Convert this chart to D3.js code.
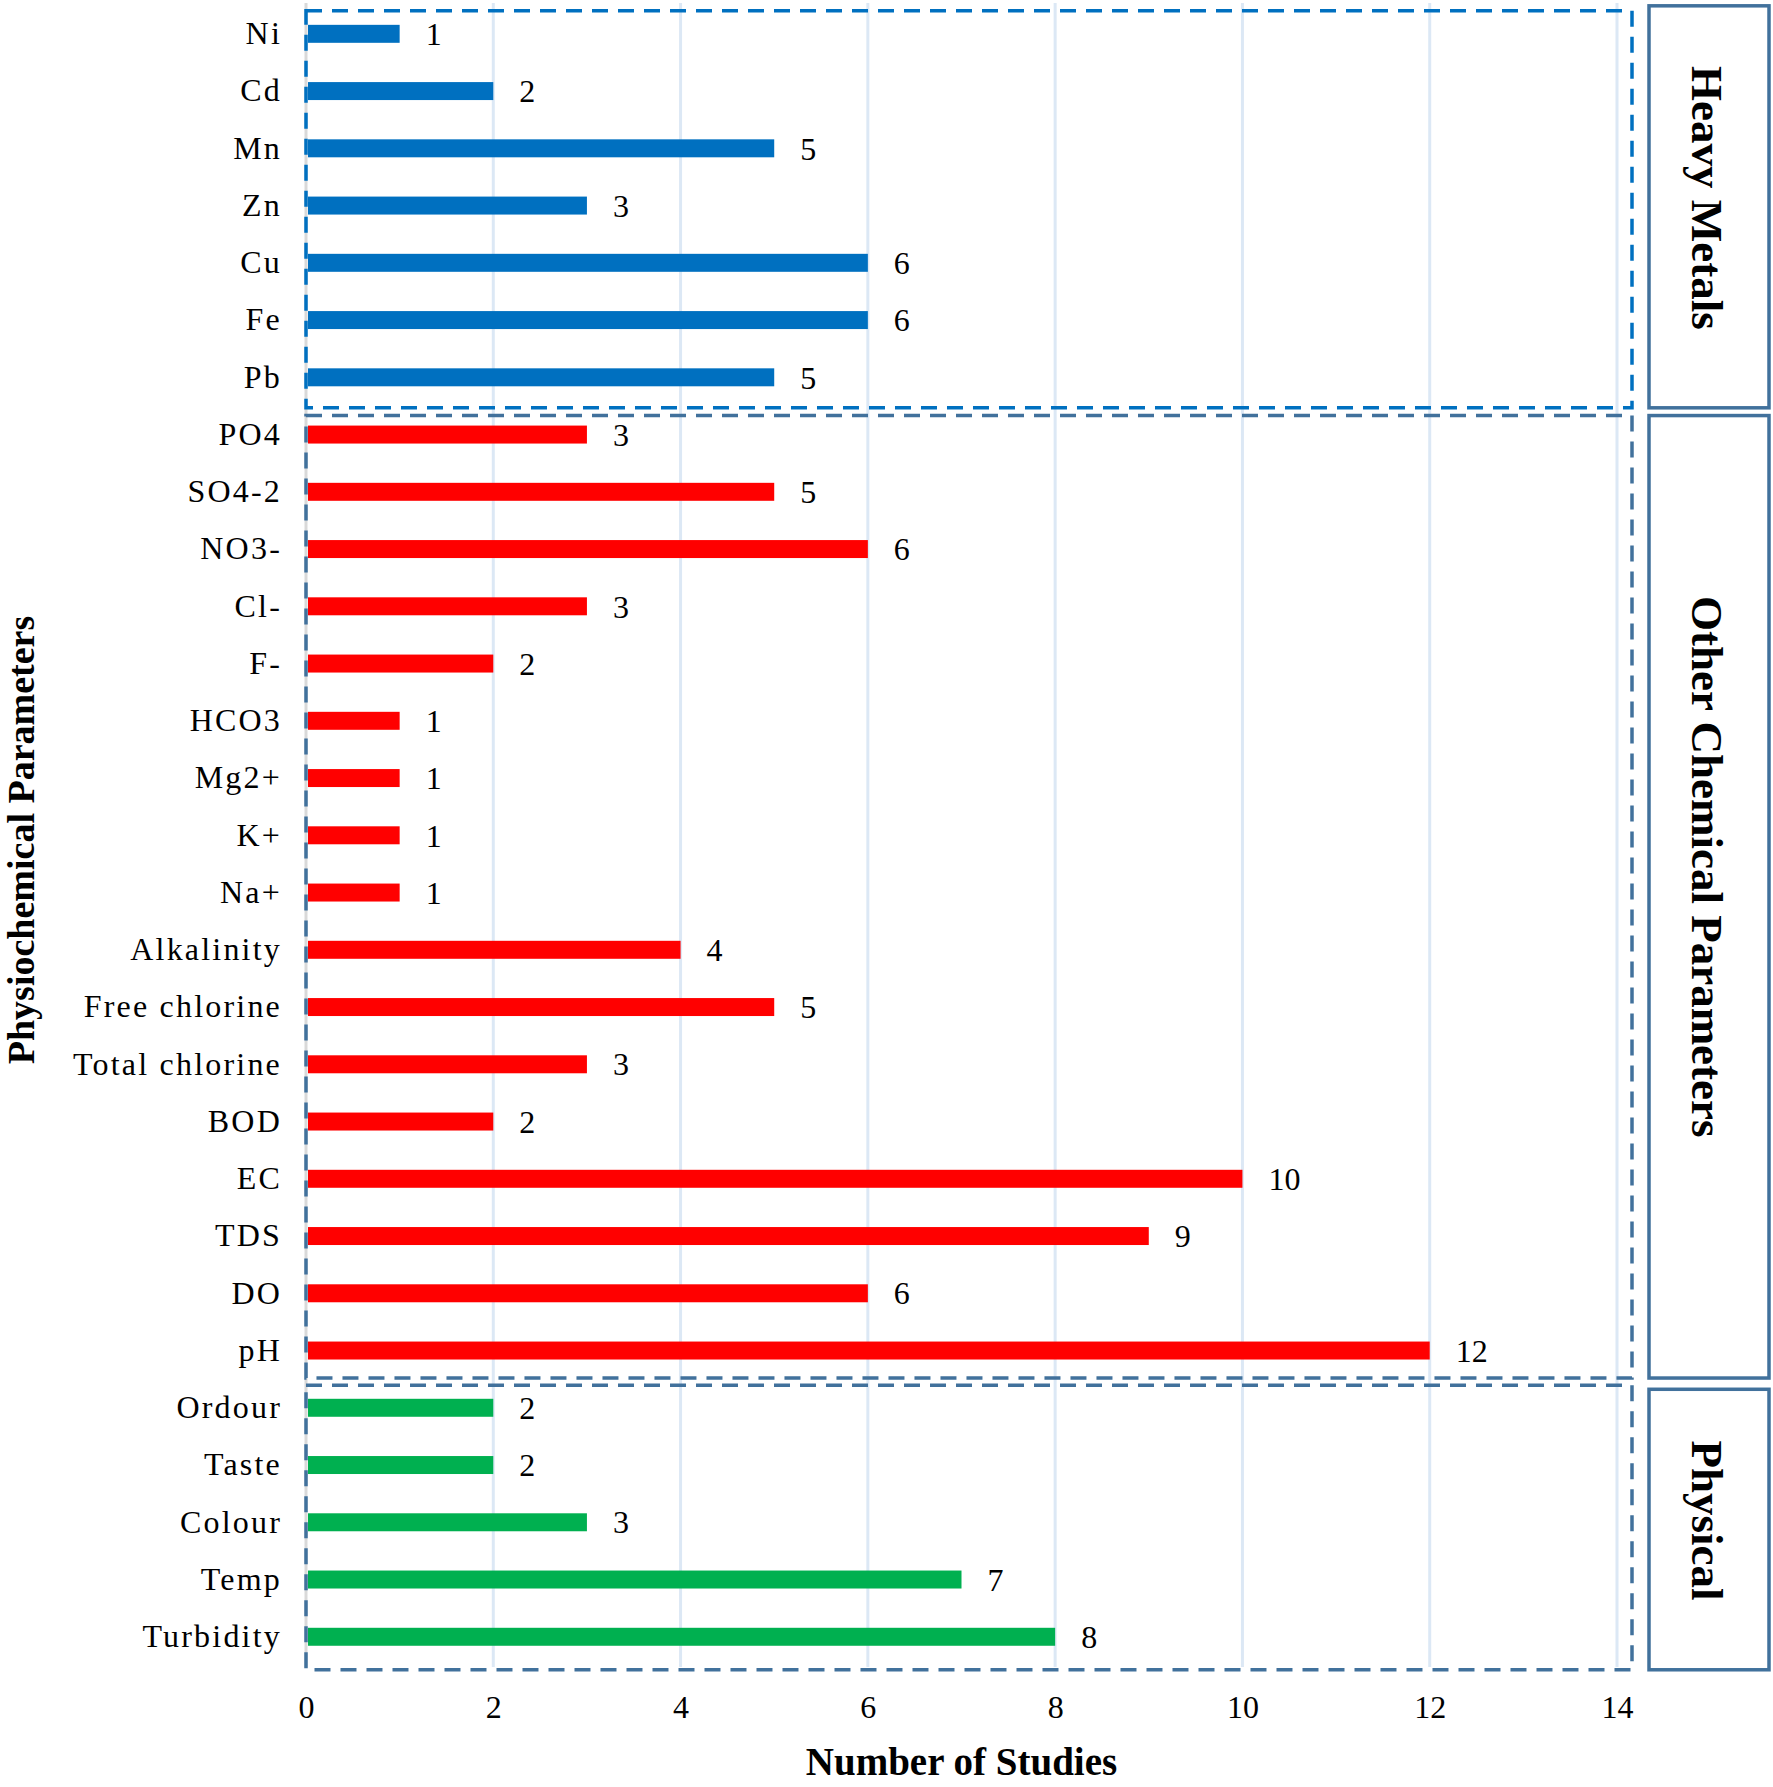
<!DOCTYPE html>
<html>
<head>
<meta charset="utf-8">
<script src="https://cdn.jsdelivr.net/npm/d3@7"></script>
<style>
  html, body { margin: 0; padding: 0; background: #fff; }
  svg { display: block; font-family: "Liberation Serif", "Times New Roman", serif; }
</style>
</head>
<body>
<svg id="chart" width="1773" height="1787"></svg>
<script>
// ---------------- data ----------------
const categories = ["Ni","Cd","Mn","Zn","Cu","Fe","Pb",
  "PO4","SO4-2","NO3-","Cl-","F-","HCO3","Mg2+","K+","Na+","Alkalinity","Free chlorine","Total chlorine","BOD","EC","TDS","DO","pH",
  "Ordour","Taste","Colour","Temp","Turbidity"];
const values = [1,2,5,3,6,6,5,
  3,5,6,3,2,1,1,1,1,4,5,3,2,10,9,6,12,
  2,2,3,7,8];
const groupNames = ["Heavy Metals","Other Chemical Parameters","Physical"];
const groupSizes = [7,17,5];
const groupBarColors = ["#0070C0","#FF0000","#00B050"];
const groupBoxColors = ["#0070C0","#41719C","#41719C"];
const xTicks = [0,2,4,6,8,10,12,14];
const xTitle = "Number of Studies";
const yTitle = "Physiochemical Parameters";

// ---------------- layout ----------------
const FONT = "Liberation Serif";
const svg = d3.select("#chart");
const plotTop = 3, plotBottom = 1667;
const x = d3.scaleLinear().domain([0,14]).range([306,1617]);
const y = d3.scaleBand().domain(categories).range([5.2,1665.4]).paddingInner(0.686).paddingOuter(0.343);
const cy = c => y(c) + y.bandwidth()/2;

// group index per category
const groupOf = [];
groupSizes.forEach((n,g) => { for (let i=0;i<n;i++) groupOf.push(g); });

// gridlines
svg.append("g").selectAll("line").data(xTicks.filter(t => t>0)).join("line")
  .attr("x1", d=>x(d)).attr("x2", d=>x(d))
  .attr("y1", plotTop).attr("y2", plotBottom)
  .attr("stroke", "#DCE8F5").attr("stroke-width", 3);

// axis line at 0
svg.append("line").attr("x1", x(0)).attr("x2", x(0)).attr("y1", plotTop).attr("y2", plotBottom)
  .attr("stroke", "#D9D9D9").attr("stroke-width", 3);

// bars
svg.append("g").selectAll("rect").data(categories).join("rect")
  .attr("x", x(0)+2)
  .attr("y", d => y(d))
  .attr("width", (d,i) => x(values[i]) - x(0) - 2)
  .attr("height", y.bandwidth())
  .attr("fill", (d,i) => groupBarColors[groupOf[i]]);

// value labels
svg.append("g").selectAll("text").data(categories).join("text")
  .attr("x", (d,i) => x(values[i]) + 26)
  .attr("y", d => cy(d))
  .attr("dy", "0.35em")
  .attr("font-family", FONT)
  .attr("font-size", 32)
  .attr("fill", "#000")
  .text((d,i) => values[i]);

// y axis labels
const yAxis = d3.axisLeft(y).tickSize(0).tickPadding(24);
const gy = svg.append("g").attr("transform", `translate(${x(0)},0)`).call(yAxis);
gy.select(".domain").remove();
gy.attr("font-family", FONT);
gy.selectAll("text").attr("font-size", 32).attr("font-family", FONT)
  .attr("fill", "#000").attr("letter-spacing", 2.2);

// x axis tick labels
const xAxis = d3.axisBottom(x).tickValues(xTicks).tickSize(0).tickPadding(0).tickFormat(d3.format("d"));
const gx = svg.append("g").attr("transform", "translate(0,1695)").call(xAxis);
gx.select(".domain").remove();
gx.attr("font-family", FONT);
gx.selectAll("text").attr("font-size", 32).attr("font-family", FONT).attr("fill", "#000");

// group boxes (dashed) and side label boxes
const dashTopOff = [23, 19, 22.5];
const dashBotOff = [30.5, 27.5, 33];
const sideTopOff = [28, 19, 18.5];
const sideBotOff = [30.5, 27.5, 33];
const labelShift = [9, 30, 9];
let start = 0;
groupNames.forEach((name, g) => {
  const first = categories[start], last = categories[start + groupSizes[g] - 1];
  const top = cy(first) - dashTopOff[g], bot = cy(last) + dashBotOff[g];
  svg.append("rect")
    .attr("x", x(0)).attr("y", top)
    .attr("width", 1632 - x(0)).attr("height", bot - top)
    .attr("fill", "none").attr("stroke", groupBoxColors[g])
    .attr("stroke-width", 3.5).attr("stroke-dasharray", "16,10");
  const sTop = cy(first) - sideTopOff[g], sBot = cy(last) + sideBotOff[g];
  svg.append("rect")
    .attr("x", 1649).attr("y", sTop).attr("width", 120).attr("height", sBot - sTop)
    .attr("fill", "#fff").attr("stroke", "#41719C").attr("stroke-width", 3.5);
  svg.append("text")
    .attr("transform", `translate(1692,${(sTop+sBot)/2 - labelShift[g]}) rotate(90)`)
    .attr("text-anchor", "middle")
    .attr("font-family", FONT)
    .attr("font-size", 45).attr("font-weight", "bold").attr("fill", "#000")
    .text(name);
  start += groupSizes[g];
});

// axis titles
svg.append("text")
  .attr("x", (x(0)+x(14))/2).attr("y", 1775)
  .attr("text-anchor", "middle").attr("font-family", FONT).attr("font-size", 39).attr("font-weight", "bold")
  .text(xTitle);
svg.append("text")
  .attr("transform", `translate(34,840) rotate(-90)`)
  .attr("text-anchor", "middle").attr("font-family", FONT).attr("font-size", 38).attr("font-weight", "bold")
  .text(yTitle);
</script>
</body>
</html>
